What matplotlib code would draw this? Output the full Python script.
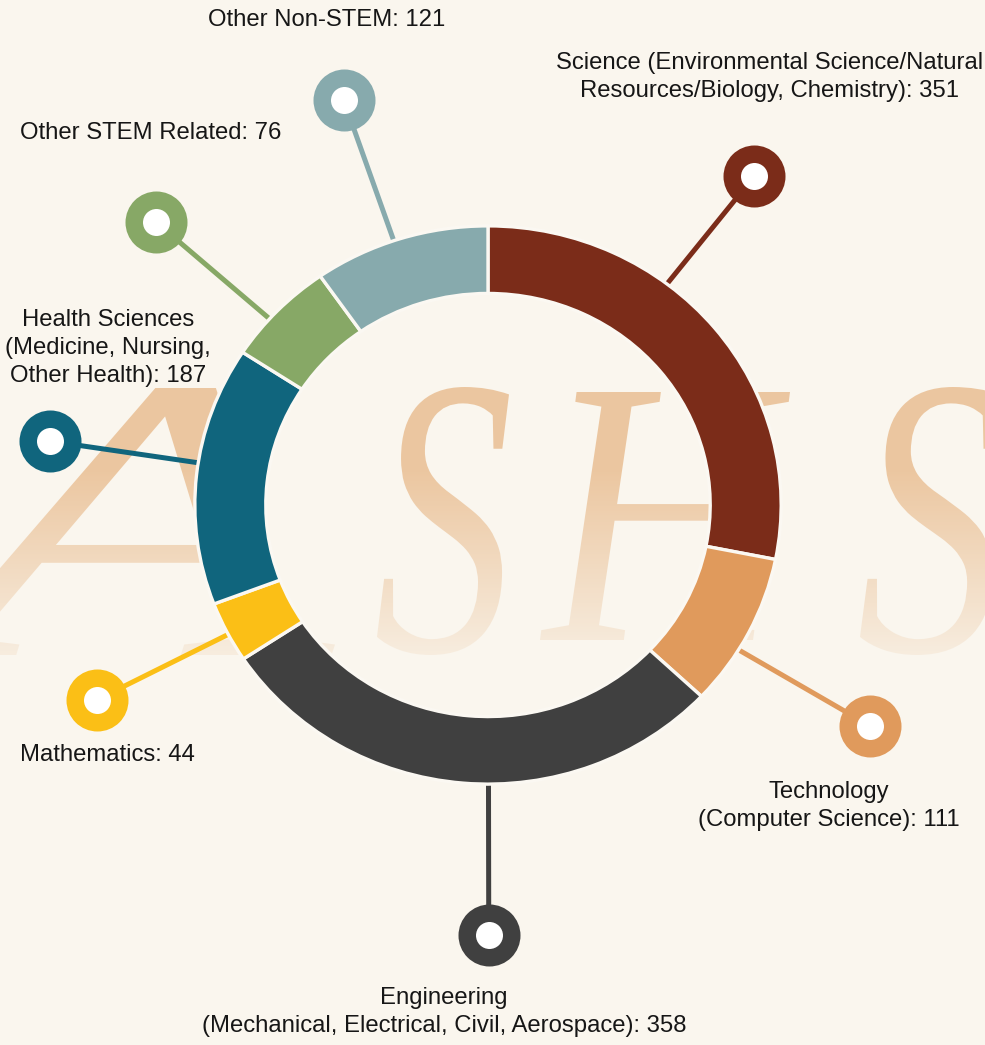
import numpy as np
import matplotlib
matplotlib.use("Agg")
import matplotlib.pyplot as plt
from matplotlib.patches import Wedge, PathPatch
from matplotlib.textpath import TextPath
from matplotlib.font_manager import FontProperties
from matplotlib.transforms import Affine2D
from matplotlib.path import Path

# === Data ===
categories = [
    "Science (Environmental Science/Natural\nResources/Biology, Chemistry)",
    "Technology\n(Computer Science)",
    "Engineering\n(Mechanical, Electrical, Civil, Aerospace)",
    "Mathematics",
    "Health Sciences\n(Medicine, Nursing,\nOther Health)",
    "Other STEM Related",
    "Other Non-STEM",
]
counts = [351, 111, 358, 44, 187, 76, 121]
colors = ["#7B2C19", "#E09A5C", "#404040", "#FBBF16", "#10657D", "#87A866", "#87AAAD"]

# === Layout (pixels) ===
W, H = 985, 1045
cx, cy, rx, ry = 488, 505, 292, 278      # ring centre and outer radii
inner = 0.765                             # inner radius / outer radius
marker_r = [1.494, 1.53, 1.547, 1.51, 1.518, 1.528, 1.539]
angle_nudge = [13, -4, 5, 0.5, -2.5, 2.3, 1.3]
label_offset = [(15, -99), (-41, 80), (-45, 77), (10, 55), (58, -93), (-5, -89), (-17, -80)]

bg = "#FAF6EE"
wm_color = (235 / 255, 196 / 255, 156 / 255)
wm_letters = ["A", "S", "H", "S"]
wm_boxes = [(-100, 335, 388, 655), (377, 509, 387, 655), (540, 790, 392, 640), (860, 1000, 387, 655)]

fig = plt.figure(figsize=(W / 100, H / 100), dpi=100, facecolor=bg)

# --- background watermark (pixel coords) ---
ax_bg = fig.add_axes([0, 0, 1, 1], zorder=0)
ax_bg.set_xlim(0, W)
ax_bg.set_ylim(H, 0)
ax_bg.axis("off")

fp = FontProperties(family="Liberation Serif", style="italic")
paths = []
for ch, (x0, x1, yt, yb) in zip(wm_letters, wm_boxes):
    p = TextPath((0, 0), ch, size=1, prop=fp)
    e = p.get_extents()
    tr = Affine2D().translate(-e.x0, -e.y1).scale((x1 - x0) / e.width, -(yb - yt) / e.height).translate(x0, yt)
    paths.append(tr.transform_path(p))
wm_path = Path.make_compound_path(*paths)
clip = PathPatch(wm_path, transform=ax_bg.transData, facecolor="none", edgecolor="none")
ax_bg.add_patch(clip)

yy = np.arange(H)[:, None] * np.ones((1, W))
grad = np.zeros((H, W, 4))
grad[..., 0], grad[..., 1], grad[..., 2] = wm_color
grad[..., 3] = np.clip((700 - yy) / 230, 0, 1) * 0.95
im = ax_bg.imshow(grad, extent=(0, W, H, 0), origin="upper", interpolation="bilinear")
im.set_clip_path(clip)

# --- ring axes: 1 data unit = rx px horizontally, ry px vertically ---
ax = fig.add_axes([0, 0, 1, 1], zorder=1)
ax.set_xlim(-cx / rx, (W - cx) / rx)
ax.set_ylim((cy - H) / ry, cy / ry)
ax.patch.set_visible(False)
ax.axis("off")

total = sum(counts)
start = 90.0
for i, (cat, n, col) in enumerate(zip(categories, counts, colors)):
    span = n / total * 360
    end = start - span
    ax.add_patch(Wedge((0, 0), 1.004, end, start, width=1.004 - inner + 0.004,
                       facecolor=col, edgecolor="#FBF8F2", linewidth=2.4, zorder=2))
    mid = np.deg2rad((start + end) / 2 + angle_nudge[i])
    mx, my = marker_r[i] * np.cos(mid), marker_r[i] * np.sin(mid)
    r0 = (1 + inner) / 2
    ax.plot([r0 * np.cos(mid), mx], [r0 * np.sin(mid), my], color=col, lw=3.6,
            solid_capstyle="butt", zorder=1)
    ax.scatter([mx], [my], s=(62 * 0.72) ** 2, color=col, zorder=3, linewidths=0)
    ax.scatter([mx], [my], s=(27 * 0.72) ** 2, color="white", zorder=4, linewidths=0)
    dx, dy = label_offset[i]
    ax.annotate(f"{cat}: {n}", (mx, my), xytext=(dx, -dy), textcoords="offset pixels",
                ha="center", va="center", multialignment="center",
                fontsize=17.2, family=["Liberation Sans", "DejaVu Sans"], color="#161616",
                linespacing=1.36, zorder=5)
    start = end

fig.savefig("out.png", dpi=100, facecolor=bg)
